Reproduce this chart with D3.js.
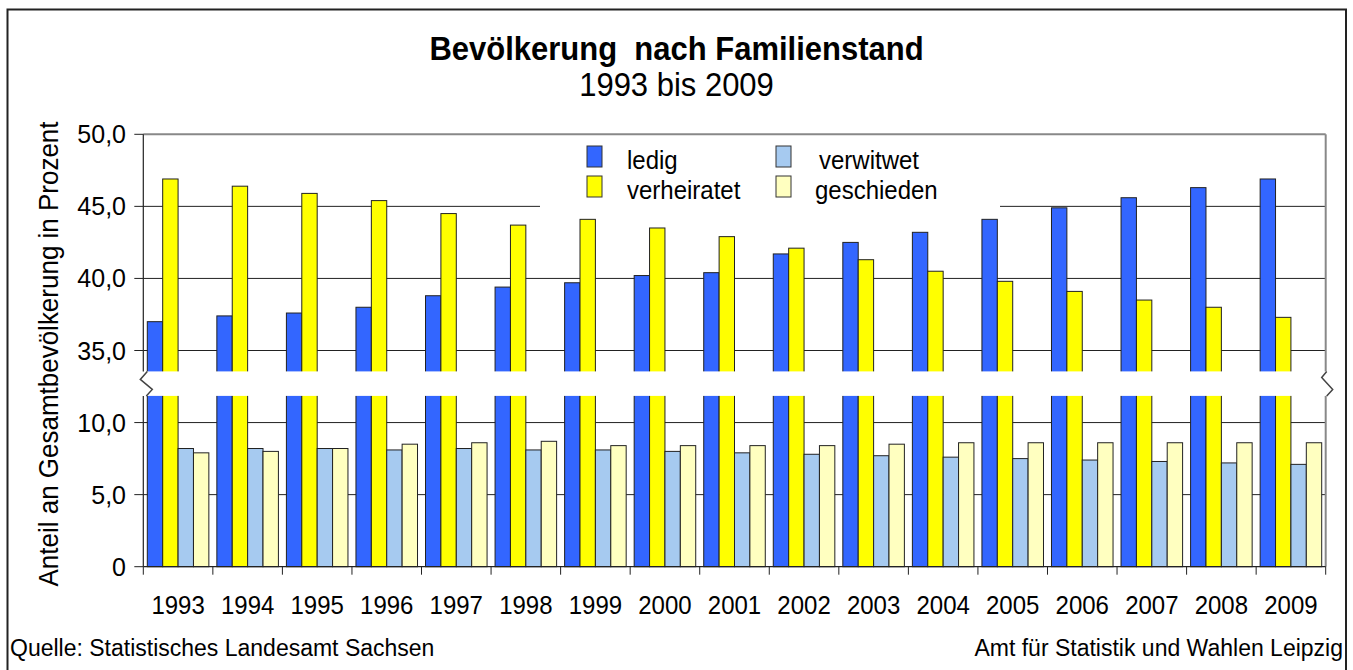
<!DOCTYPE html>
<html lang="de">
<head>
    <meta charset="UTF-8">
    <title>Bevölkerung nach Familienstand</title>
    <style>
        body { margin: 0; background: #fff; }
        svg { display: block; font-family: "Liberation Sans", Arial, sans-serif; }
        .bar { stroke: #222; stroke-width: 1; }
    </style>
</head>
<body>
    <script src="https://cdn.jsdelivr.net/npm/d3@7"></script>
    <script>

        // data
        var years = ["1993", "1994", "1995", "1996", "1997", "1998", "1999", "2000", "2001",
                     "2002", "2003", "2004", "2005", "2006", "2007", "2008", "2009"];
        var ledig       = [37.0, 37.4, 37.6, 38.0, 38.8, 39.4, 39.7, 40.2, 40.4, 41.7, 42.5, 43.2, 44.1, 44.9, 45.6, 46.3, 46.9];
        var verheiratet = [46.9, 46.4, 45.9, 45.4, 44.5, 43.7, 44.1, 43.5, 42.9, 42.1, 41.3, 40.5, 39.8, 39.1, 38.5, 38.0, 37.3];
        var verwitwet   = [8.2, 8.2, 8.2, 8.1, 8.2, 8.1, 8.1, 8.0, 7.9, 7.8, 7.7, 7.6, 7.5, 7.4, 7.3, 7.2, 7.1];
        var geschieden  = [7.9, 8.0, 8.2, 8.5, 8.6, 8.7, 8.4, 8.4, 8.4, 8.4, 8.5, 8.6, 8.6, 8.6, 8.6, 8.6, 8.6];
        var seriesNames = ["ledig", "verheiratet", "verwitwet", "geschieden"];
        var colors = ["#3366ff", "#ffff00", "#a6caf0", "#ffffc0"];
        var lowerTicks = [0, 5, 10];
        var upperTicks = [35, 40, 45, 50];

        var series = [ledig, verheiratet, verwitwet, geschieden];

        var width = 1353,
            height = 670,
            sy = 1.05; // the original is a little stretched vertically

        var pL = 143.3, pR = 1325.7, pT = 134.3, pB = 566.7;

        // broken axis: values >= 35 are shifted down by 20
        var y = d3.scaleLinear().domain([0, 30]).range([pB, pT]);
        function yPos(v) { return y(v >= 30 ? v - 20 : v); }
        var breakTop = y(13.55), breakBottom = y(11.85);

        var x = d3.scaleBand().domain(years).range([pL, pR])
            .paddingInner(0.115).paddingOuter(0.0575);
        var x1 = d3.scaleBand().domain(seriesNames).range([0, x.bandwidth()]);
        var color = d3.scaleOrdinal().domain(seriesNames).range(colors);

        var fmt = function(v) { return v === 0 ? "0" : d3.format(".1f")(v).replace(".", ","); };

        var svg = d3.select("body").append("svg")
            .attr("width", width)
            .attr("height", height);

        function label(g, px, py, txt, size, anchor, weight, rot) {
            return g.append("text")
                .attr("transform", "translate(" + px + "," + py + ")" + (rot ? " rotate(" + rot + ")" : "") + " scale(1," + sy + ")")
                .attr("text-anchor", anchor || "start")
                .attr("font-size", size)
                .attr("font-weight", weight || "normal")
                .attr("fill", "#000")
                .text(txt);
        }

        // outer frame
        svg.append("rect")
            .attr("x", 7.5).attr("y", 9.5)
            .attr("width", 1338.5).attr("height", 700)
            .attr("fill", "none").attr("stroke", "#222").attr("stroke-width", 2);

        // titles
        label(svg, 676.5, 60, "Bevölkerung  nach Familienstand", 31, "middle", "bold").style("white-space", "pre");
        label(svg, 676.5, 96, "1993 bis 2009", 31, "middle");

        // gridlines
        var grid = [5, 10, 35, 40, 45];
        svg.append("g").selectAll("line")
            .data(grid)
            .enter().append("line")
            .attr("x1", pL).attr("x2", pR)
            .attr("y1", function(d) { return yPos(d); })
            .attr("y2", function(d) { return yPos(d); })
            .attr("stroke", "#222").attr("stroke-width", 1);

        // legend background (hides grid)
        svg.append("rect")
            .attr("x", 540).attr("y", 137).attr("width", 460).attr("height", 75)
            .attr("fill", "#fff");

        // bars
        var groups = svg.append("g").selectAll("g")
            .data(years)
            .enter().append("g")
            .attr("transform", function(d) { return "translate(" + x(d) + ",0)"; });

        groups.selectAll("rect")
            .data(function(d, i) { return seriesNames.map(function(s, j) { return { key: s, value: series[j][i] }; }); })
            .enter().append("rect")
            .attr("class", "bar")
            .attr("x", function(d) { return x1(d.key); })
            .attr("y", function(d) { return yPos(d.value); })
            .attr("width", x1.bandwidth())
            .attr("height", function(d) { return pB - yPos(d.value); })
            .attr("fill", function(d) { return color(d.key); });

        // axis break band
        svg.append("rect")
            .attr("x", pL - 6).attr("y", breakTop)
            .attr("width", pR - pL + 14).attr("height", breakBottom - breakTop)
            .attr("fill", "#fff");

        // plot frame
        svg.append("line").attr("x1", pL).attr("x2", pR).attr("y1", pT).attr("y2", pT)
            .attr("stroke", "#888").attr("stroke-width", 2);
        svg.append("line").attr("x1", pR).attr("x2", pR).attr("y1", pT).attr("y2", breakTop)
            .attr("stroke", "#888").attr("stroke-width", 2);
        svg.append("line").attr("x1", pR).attr("x2", pR).attr("y1", breakBottom).attr("y2", pB)
            .attr("stroke", "#888").attr("stroke-width", 2);
        svg.append("line").attr("x1", pL).attr("x2", pL).attr("y1", pT).attr("y2", breakTop)
            .attr("stroke", "#222").attr("stroke-width", 1.2);
        svg.append("line").attr("x1", pL).attr("x2", pL).attr("y1", breakBottom).attr("y2", pB)
            .attr("stroke", "#222").attr("stroke-width", 1.2);
        svg.append("line").attr("x1", pL).attr("x2", pR).attr("y1", pB).attr("y2", pB)
            .attr("stroke", "#222").attr("stroke-width", 1.2);

        // break marks
        var zig = d3.line();
        svg.append("path")
            .attr("d", zig([[pL + 4, breakTop], [pL - 3, breakTop + 8], [pL + 9, breakTop + 18], [pL + 3, breakBottom]]))
            .attr("fill", "none").attr("stroke", "#444").attr("stroke-width", 1.5);
        svg.append("path")
            .attr("d", zig([[pR + 1, breakTop], [pR - 4, breakTop + 6], [pR + 7, breakTop + 18], [pR + 1, breakBottom]]))
            .attr("fill", "none").attr("stroke", "#444").attr("stroke-width", 1.5);

        // y ticks and labels
        var yTicks = lowerTicks.concat(upperTicks);
        svg.append("g").selectAll("line")
            .data(yTicks)
            .enter().append("line")
            .attr("x1", pL - 9).attr("x2", pL)
            .attr("y1", function(d) { return yPos(d); })
            .attr("y2", function(d) { return yPos(d); })
            .attr("stroke", "#222").attr("stroke-width", 1);
        yTicks.forEach(function(d) {
            label(svg, 126, yPos(d) + 9, fmt(d), 25, "end");
        });

        // x ticks and labels
        svg.append("g").selectAll("line")
            .data(d3.range(years.length + 1))
            .enter().append("line")
            .attr("x1", function(i) { return pL + i * x.step(); })
            .attr("x2", function(i) { return pL + i * x.step(); })
            .attr("y1", pB).attr("y2", pB + 8)
            .attr("stroke", "#222").attr("stroke-width", 1);
        years.forEach(function(d) {
            label(svg, x(d) + x.bandwidth() / 2, 614, d, 24, "middle");
        });

        // axis title
        label(svg, 58, 354, "Anteil an Gesamtbevölkerung in Prozent", 26, "middle", "normal", -90);

        // legend
        var legendPos = [[587, 146, 627], [587, 176, 627], [776, 146, 819], [776, 176, 815]];
        seriesNames.forEach(function(s, i) {
            var p = legendPos[i];
            svg.append("rect")
                .attr("x", p[0]).attr("y", p[1]).attr("width", 15).attr("height", 21)
                .attr("fill", color(s)).attr("stroke", "#333").attr("stroke-width", 1);
            label(svg, p[2], p[1] + 23, s, 24, "start");
        });

        // footer
        label(svg, 10, 656, "Quelle: Statistisches Landesamt Sachsen", 23, "start");
        label(svg, 1343, 656, "Amt für Statistik und Wahlen Leipzig", 23, "end");

    </script>
</body>
</html>
